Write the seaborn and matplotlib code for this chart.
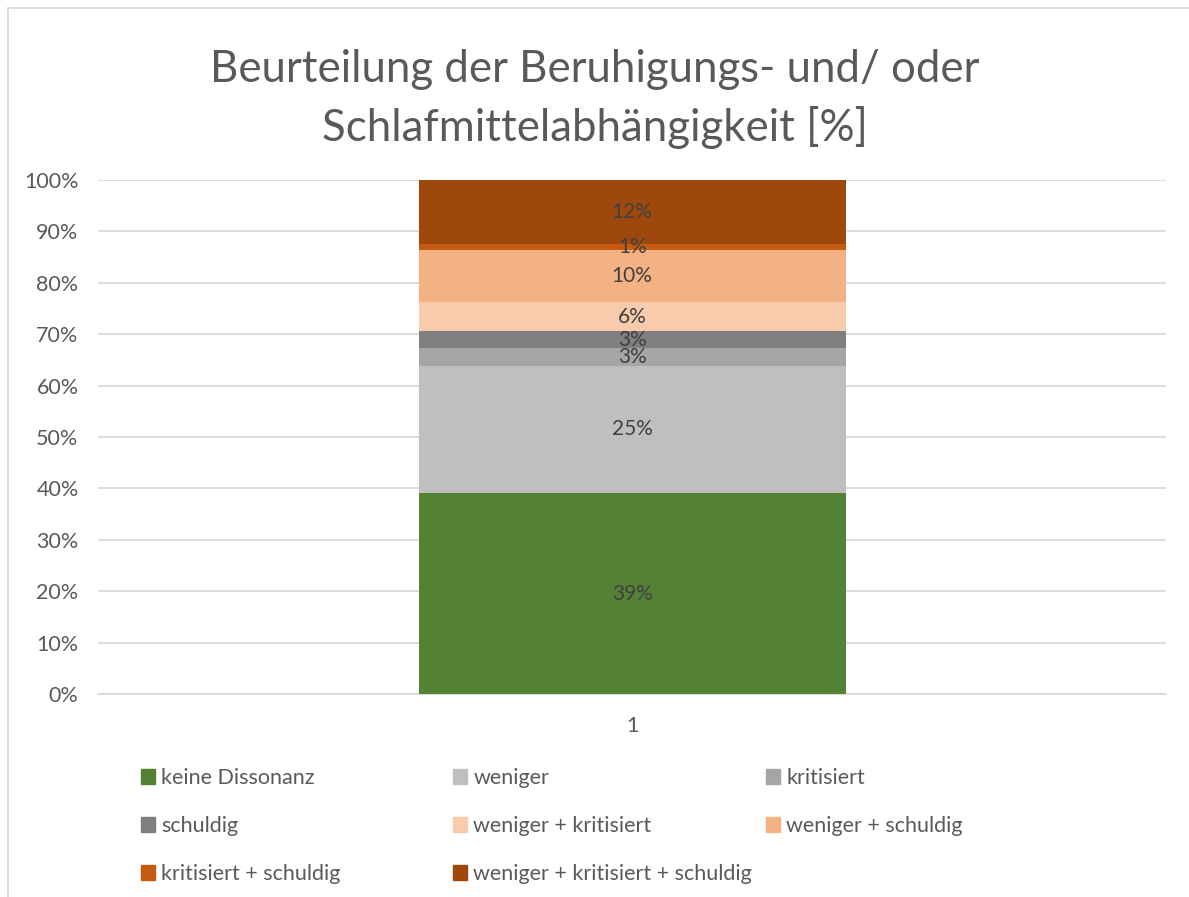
import matplotlib
matplotlib.use("Agg")
import matplotlib.pyplot as plt
import matplotlib.patches as mpatches
from matplotlib.ticker import PercentFormatter
import seaborn as sns

# values (percent)
categories = ["keine Dissonanz", "weniger", "kritisiert", "schuldig",
              "weniger + kritisiert", "weniger + schuldig",
              "kritisiert + schuldig", "weniger + kritisiert + schuldig"]
values = [39.1, 24.8, 3.4, 3.3, 5.6, 10.1, 1.2, 12.5]
colors = ["#548235", "#BFBFBF", "#A5A5A5", "#7F7F7F",
          "#F8CBAD", "#F4B183", "#C55A11", "#9E480E"]
x_labels = ["1"]

sns.set_style("white")
plt.rcParams["font.family"] = ["Lato", "DejaVu Sans"]

fig = plt.figure(figsize=(11.89, 8.97), dpi=100)
ax = fig.add_axes([0.0824, 0.2263, 0.8986, 0.5730])

bottom = 0.0
for cat, val, col in zip(categories, values, colors):
    sns.barplot(x=x_labels, y=[val], bottom=bottom, color=col, width=0.4,
                saturation=1, ax=ax, linewidth=0, zorder=3)
    ax.text(0, bottom + val / 2, f"{round(val):.0f}%", ha="center", va="center",
            fontsize=15, color="#404040", zorder=4)
    bottom += val

ax.set_xlim(-0.5, 0.5)
ax.set_ylim(0, 100)
ax.set_yticks(range(0, 101, 10))
ax.yaxis.set_major_formatter(PercentFormatter(decimals=0))
ax.grid(axis="y", color="#D9D9D9", linewidth=1.3, zorder=0)
for s in ["top", "right", "left"]:
    ax.spines[s].set_visible(False)
ax.spines["bottom"].set_color("#D9D9D9")
ax.spines["bottom"].set_linewidth(1.3)
ax.tick_params(axis="both", length=0, labelsize=15.5, labelcolor="#595959")
ax.tick_params(axis="y", pad=14)
ax.tick_params(axis="x", pad=16)
ax.set_xlabel("")
ax.set_ylabel("")

fig.suptitle("Beurteilung der Beruhigungs- und/ oder\nSchlafmittelabhängigkeit [%]",
             y=0.945, fontsize=31.5, color="#595959", linespacing=1.45)

# legend: three columns at fixed positions, filled row-wise like the reference
col_x = [141, 453, 766]
for c in range(3):
    idx = list(range(c, len(categories), 3))
    hs = [mpatches.Patch(color=colors[i]) for i in idx]
    fig.legend(hs, [categories[i] for i in idx], loc="upper left",
               bbox_to_anchor=(col_x[c] / 1189, 1 - 768 / 897),
               frameon=False, fontsize=15.5, labelcolor="#595959",
               handlelength=0.65, handleheight=0.65, handletextpad=0.3,
               labelspacing=1.3, borderaxespad=0, borderpad=0)

# chart frame
fig.patches.append(mpatches.Rectangle((8 / 1189, -0.1), 1.2, 0.991 + 0.1,
                                      transform=fig.transFigure, fill=False,
                                      edgecolor="#D9D9D9", linewidth=1.3))

fig.savefig("out.png", dpi=100)
